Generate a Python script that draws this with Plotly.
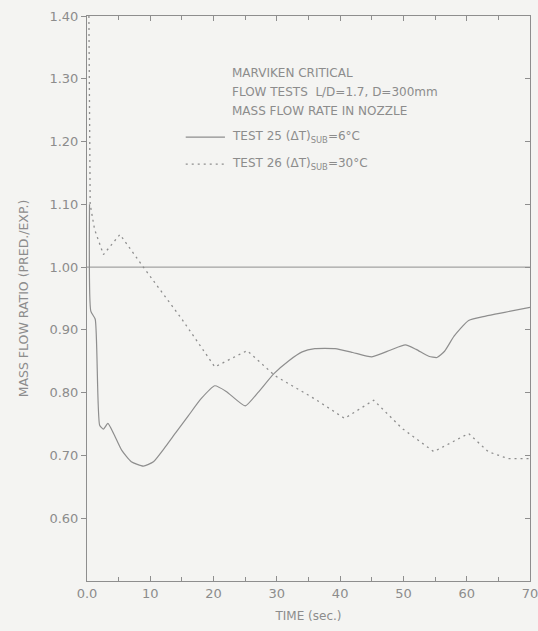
import plotly.graph_objects as go

# Test 25: (dT)sub = 6 C, ratio of predicted to measured mass flow
t25 = [0.4, 0.6, 1.3, 2.0, 2.6, 3.3, 4.2, 5.5, 7.0, 8.9, 10.5, 12.4, 14.0, 16.0, 18.0, 20.2,
       22.0, 25.0, 27.0, 29.5, 31.9, 34.0, 36.0, 39.2, 42.0, 45.0, 48.0, 50.3, 52.0, 54.0,
       55.3, 56.5, 58.0, 60.3, 63.0, 66.0, 70.0]
r25 = [1.10, 0.93, 0.917, 0.748, 0.742, 0.751, 0.735, 0.708, 0.690, 0.683, 0.690, 0.714,
       0.736, 0.763, 0.790, 0.811, 0.802, 0.779, 0.800, 0.830, 0.851, 0.865, 0.870, 0.870,
       0.864, 0.857, 0.868, 0.876, 0.869, 0.858, 0.856, 0.866, 0.890, 0.915, 0.922, 0.928,
       0.936]

# Test 26: (dT)sub = 30 C
t26 = [0.3, 0.35, 0.5, 1.2, 2.6, 5.2, 8.9, 15.0, 20.2, 25.3, 29.7, 36.0, 40.7, 45.3, 49.8,
       54.8, 60.3, 63.4, 66.5, 69.8]
r26 = [1.40, 1.25, 1.10, 1.06, 1.02, 1.052, 1.000, 0.917, 0.841, 0.867, 0.827, 0.790,
       0.759, 0.788, 0.743, 0.706, 0.735, 0.706, 0.695, 0.695]

x_ticks = [0, 10, 20, 30, 40, 50, 60, 70]
x_labels = ["0.0", "10", "20", "30", "40", "50", "60", "70"]
y_ticks = [0.6, 0.7, 0.8, 0.9, 1.0, 1.1, 1.2, 1.3, 1.4]
y_labels = ["0.60", "0.70", "0.80", "0.90", "1.00", "1.10", "1.20", "1.30", "1.40"]

ink = "#8e8e8e"
text_ink = "#8c8c8c"
bg = "#f4f4f2"
face = "DejaVu Sans, Liberation Sans, sans-serif"

fig = go.Figure()

# reference ratio of 1.00
fig.add_trace(go.Scatter(x=[0, 70], y=[1.0, 1.0], mode="lines",
                         line=dict(color=ink, width=1), showlegend=False, hoverinfo="skip"))
fig.add_trace(go.Scatter(x=t26, y=r26, mode="lines",
                         line=dict(color=ink, width=1.3, dash="2px,4px"), showlegend=False))
fig.add_trace(go.Scatter(x=t25, y=r25, mode="lines",
                         line=dict(color=ink, width=1.2, shape="spline", smoothing=0.5),
                         showlegend=False))

# legend samples
fig.add_trace(go.Scatter(x=[15.6, 21.8], y=[1.207, 1.207], mode="lines",
                         line=dict(color=ink, width=1.2), showlegend=False, hoverinfo="skip"))
fig.add_trace(go.Scatter(x=[15.6, 22.0], y=[1.164, 1.164], mode="lines",
                         line=dict(color=ink, width=1.2, dash="2px,4px"),
                         showlegend=False, hoverinfo="skip"))

# right-side ticks pointing inward
fig.add_trace(go.Scatter(x=[70], y=[0.5], yaxis="y2", mode="markers",
                         marker=dict(opacity=0), showlegend=False, hoverinfo="skip"))

fig.update_layout(
    width=538, height=631,
    margin=dict(l=87, r=8, t=16, b=50, autoexpand=False),
    paper_bgcolor=bg, plot_bgcolor=bg,
    font=dict(family=face, size=12, color=text_ink),
    xaxis=dict(range=[0, 70], tickvals=x_ticks, ticktext=x_labels,
               ticks="inside", ticklen=5, tickcolor=ink, showline=True, linecolor=ink,
               linewidth=1, mirror="ticks", showgrid=False, zeroline=False,
               minor=dict(dtick=5, ticks="inside", ticklen=4, tickcolor=ink),
               title=dict(text="TIME (sec.)", font=dict(size=12, color=text_ink), standoff=12),
               tickfont=dict(size=13, color=text_ink), automargin=False,
               ticklabeloverflow="allow"),
    yaxis=dict(range=[0.5, 1.4], tickvals=y_ticks, ticktext=y_labels,
               ticks="outside", ticklen=5, tickcolor=ink, showline=True, linecolor=ink,
               linewidth=1, mirror=True, showgrid=False, zeroline=False,
               title=dict(text="MASS FLOW RATIO (PRED./EXP.)",
                          font=dict(size=12.5, color=text_ink), standoff=18),
               tickfont=dict(size=13, color=text_ink), automargin=False),
    yaxis2=dict(range=[0.5, 1.4], overlaying="y", side="right", tickvals=y_ticks,
                showticklabels=False, ticks="inside", ticklen=5, tickcolor=ink,
                showgrid=False, zeroline=False, showline=False, automargin=False),
)

notes = [
    ("MARVIKEN CRITICAL", 1.309),
    ("FLOW TESTS  L/D=1.7, D=300mm", 1.279),
    ("MASS FLOW RATE IN NOZZLE", 1.249),
    ("TEST 25 (\u0394T)<sub>SUB</sub>=6\u00b0C", 1.207),
    ("TEST 26 (\u0394T)<sub>SUB</sub>=30\u00b0C", 1.164),
]
for txt, yv in notes:
    fig.add_annotation(x=22.6, y=yv, text=txt, showarrow=False, xanchor="left",
                       yanchor="middle", font=dict(size=12, color=text_ink))

fig.write_html("out.html")
